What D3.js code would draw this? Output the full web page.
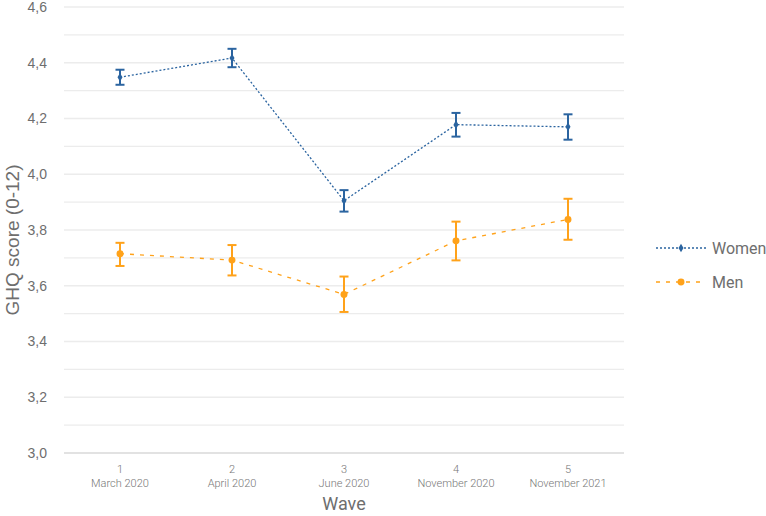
<!DOCTYPE html>
<html>
<head>
<meta charset="utf-8">
<script src="https://cdn.jsdelivr.net/npm/d3@7"></script>
<style>
  body { margin: 0; background: #fff; }
</style>
</head>
<body>
<div id="canvas"></div>
<script>
"use strict"

/* Data */
const waves = ["1", "2", "3", "4", "5"];
const waveDates = ["March 2020", "April 2020", "June 2020", "November 2020", "November 2021"];
const womenMean = [4.348, 4.417, 3.905, 4.178, 4.170];
const womenLow  = [4.321, 4.384, 3.866, 4.135, 4.124];
const womenHigh = [4.375, 4.450, 3.943, 4.220, 4.215];
const menMean = [3.715, 3.692, 3.569, 3.761, 3.838];
const menLow  = [3.671, 3.637, 3.506, 3.691, 3.765];
const menHigh = [3.754, 3.746, 3.633, 3.830, 3.912];
const yTicks = [3.0, 3.2, 3.4, 3.6, 3.8, 4.0, 4.2, 4.4, 4.6];

const W = 766, H = 516;
const plotLeft = 64, plotRight = 624, plotTop = 7, plotBottom = 453;
const sansArial = "'Liberation Sans', Arial, sans-serif";
const sansNarrow = "Roboto, sans-serif";

let svg = d3.select("#canvas").append("svg")
    .attr("width", W)
    .attr("height", H);

let x = d3.scaleBand().domain(waves).range([plotLeft, plotRight]);
let y = d3.scaleLinear().domain([3.0, 4.6]).range([plotBottom, plotTop]);

/* Grid lines every 0.1 */
let gridVals = d3.range(30, 47).map(d => d / 10);
svg.append("g").selectAll("line")
    .data(gridVals)
    .join("line")
    .attr("x1", plotLeft).attr("x2", plotRight)
    .attr("y1", d => y(d)).attr("y2", d => y(d))
    .attr("stroke", d => d === 3.0 ? "#d9d9d9" : "#ececec")
    .attr("stroke-width", 1.3);

/* Y axis labels */
let yAxis = svg.append("g")
    .attr("transform", `translate(${plotLeft - 17},0)`)
    .call(d3.axisLeft(y).tickValues(yTicks).tickSize(0).tickFormat(d => d3.format(".1f")(d).replace(".", ",")));
yAxis.select(".domain").remove();
yAxis.selectAll("text")
    .attr("fill", "#6e6e6e")
    .attr("x", 0)
    .style("font-size", "14px")
    .style("font-family", sansArial);

svg.append("text")
    .attr("transform", `translate(19, 240) rotate(-90)`)
    .attr("text-anchor", "middle")
    .attr("fill", "#6e6e6e")
    .style("font-size", "19px")
    .style("font-family", sansArial)
    .text("GHQ score (0-12)");

/* X axis labels */
let xAxis = svg.append("g");
xAxis.selectAll("text.num")
    .data(waves)
    .join("text")
    .attr("class", "num")
    .attr("x", d => x(d) + x.bandwidth() / 2)
    .attr("y", 473)
    .attr("text-anchor", "middle")
    .attr("fill", "#777")
    .style("font-family", sansNarrow)
    .style("font-weight", 300)
    .style("font-size", "11px")
    .text(d => d);
xAxis.selectAll("text.date")
    .data(waves)
    .join("text")
    .attr("class", "date")
    .attr("x", d => x(d) + x.bandwidth() / 2)
    .attr("y", 487)
    .attr("text-anchor", "middle")
    .attr("fill", "#777")
    .style("font-family", sansNarrow)
    .style("font-weight", 300)
    .style("font-size", "11px")
    .text((d, i) => waveDates[i]);

svg.append("text")
    .attr("x", (plotLeft + plotRight) / 2)
    .attr("y", 510)
    .attr("text-anchor", "middle")
    .attr("fill", "#6e6e6e")
    .style("font-family", sansNarrow)
    .style("font-size", "18px")
    .text("Wave");

/* Series */
const series = [
    { name: "Women", mean: womenMean, low: womenLow, high: womenHigh, color: "#2b64a0", dash: "2,2", marker: "diamond" },
    { name: "Men", mean: menMean, low: menLow, high: menHigh, color: "#ffa21a", dash: "4,6", marker: "circle" }
];

let cx = d => x(d) + x.bandwidth() / 2;

series.forEach(s => {
    let g = svg.append("g");
    let pts = waves.map((w, i) => ({ w: w, v: s.mean[i], lo: s.low[i], hi: s.high[i] }));

    g.append("path")
        .datum(pts)
        .attr("fill", "none")
        .attr("stroke", s.color)
        .attr("stroke-width", 1.3)
        .attr("stroke-dasharray", s.dash)
        .attr("d", d3.line().x(d => cx(d.w)).y(d => y(d.v)));

    /* error bars */
    g.selectAll("line.bar").data(pts).join("line")
        .attr("class", "bar")
        .attr("x1", d => cx(d.w)).attr("x2", d => cx(d.w))
        .attr("y1", d => y(d.lo)).attr("y2", d => y(d.hi))
        .attr("stroke", s.color).attr("stroke-width", 2);
    g.selectAll("line.capHi").data(pts).join("line")
        .attr("class", "capHi")
        .attr("x1", d => cx(d.w) - 4.5).attr("x2", d => cx(d.w) + 4.5)
        .attr("y1", d => y(d.hi)).attr("y2", d => y(d.hi))
        .attr("stroke", s.color).attr("stroke-width", 2);
    g.selectAll("line.capLo").data(pts).join("line")
        .attr("class", "capLo")
        .attr("x1", d => cx(d.w) - 4.5).attr("x2", d => cx(d.w) + 4.5)
        .attr("y1", d => y(d.lo)).attr("y2", d => y(d.lo))
        .attr("stroke", s.color).attr("stroke-width", 2);

    let sym = s.marker === "diamond" ? d3.symbolDiamond : d3.symbolCircle;
    let size = s.marker === "diamond" ? 22 : 38;
    g.selectAll("path.mk").data(pts).join("path")
        .attr("class", "mk")
        .attr("transform", d => `translate(${cx(d.w)},${y(d.v)})`)
        .attr("d", d3.symbol().type(sym).size(size))
        .attr("fill", s.color);
});

/* Legend */
let legend = svg.append("g");
series.forEach((s, i) => {
    let ly = 248 + i * 34;
    legend.append("line")
        .attr("x1", 656).attr("x2", 706)
        .attr("y1", ly).attr("y2", ly)
        .attr("stroke", s.color).attr("stroke-width", 1.3)
        .attr("stroke-dasharray", s.dash);
    let sym = s.marker === "diamond" ? d3.symbolDiamond : d3.symbolCircle;
    legend.append("path")
        .attr("transform", `translate(681,${ly})`)
        .attr("d", d3.symbol().type(sym).size(s.marker === "diamond" ? 22 : 38))
        .attr("fill", s.color);
    legend.append("text")
        .attr("x", 712).attr("y", ly + 6)
        .attr("fill", "#6e6e6e")
        .style("font-family", sansNarrow)
        .style("font-size", "16px")
        .text(s.name);
});
</script>
</body>
</html>
